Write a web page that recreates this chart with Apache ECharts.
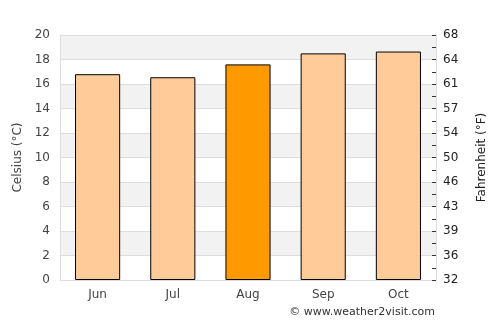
<!DOCTYPE html>
<html><head><meta charset="utf-8">
<script src="https://cdn.jsdelivr.net/npm/echarts@6/dist/echarts.min.js"></script>
<style>html,body{margin:0;padding:0;background:#fff}#c{width:500px;height:325px}</style>
</head><body><div id="c"></div>
<script>
var months = ["Jun", "Jul", "Aug", "Sep", "Oct"];
var celsius = [16.8, 16.55, 17.6, 18.5, 18.65];
var highlightIndex = 2;
var fahrenheitLabels = ["32","36","39","43","46","50","54","57","61","64","68"];

var chart = echarts.init(document.getElementById('c'), null, {renderer: 'canvas'});
var font = 'DejaVu Sans';
chart.setOption({
  animation: false,
  textStyle: {fontFamily: font},
  grid: {left: 60, right: 64, top: 35, bottom: 45},
  xAxis: {
    type: 'category', data: months,
    axisLine: {lineStyle: {color: '#dddddd'}},
    axisTick: {show: false},
    axisLabel: {color: '#444', fontSize: 12, margin: 9, fontFamily: font}
  },
  yAxis: [{
    type: 'value', min: 0, max: 20, interval: 2,
    name: 'Celsius (°C)', nameLocation: 'middle', nameGap: 36, nameRotate: 90,
    nameTextStyle: {color: '#444', fontSize: 12, fontFamily: font},
    axisLine: {show: true, lineStyle: {color: '#dddddd'}},
    axisTick: {show: false},
    axisLabel: {color: '#444', fontSize: 12, margin: 10, fontFamily: font},
    splitLine: {show: true, lineStyle: {color: '#dddddd'}},
    splitArea: {show: true, areaStyle: {color: ['#ffffff', '#f2f2f2']}}
  }, {
    type: 'value', min: 0, max: 20, interval: 1, position: 'right',
    name: 'Fahrenheit (°F)', nameLocation: 'middle', nameGap: 40, nameRotate: 90,
    nameTextStyle: {color: '#222', fontSize: 12, fontFamily: font},
    axisLine: {show: true, lineStyle: {color: '#dddddd'}},
    axisTick: {show: true, inside: true, length: 4, lineStyle: {color: '#333'}},
    axisLabel: {color: '#222', fontSize: 12, margin: 7, fontFamily: font,
      formatter: function (v) { return v % 2 === 0 ? fahrenheitLabels[v / 2] : ''; }},
    splitLine: {show: false}
  }],
  series: [{
    type: 'bar', barWidth: '60%',
    data: celsius.map(function (v, i) {
      return {value: v, itemStyle: {color: i === highlightIndex ? '#ff9900' : '#ffcc99'}};
    }),
    itemStyle: {borderColor: '#000', borderWidth: 1}
  }],
  graphic: [{
    type: 'text', right: 65, top: 307,
    style: {text: '© www.weather2visit.com', fill: '#333', font: '11px DejaVu Sans'}
  }]
});
</script></body></html>
